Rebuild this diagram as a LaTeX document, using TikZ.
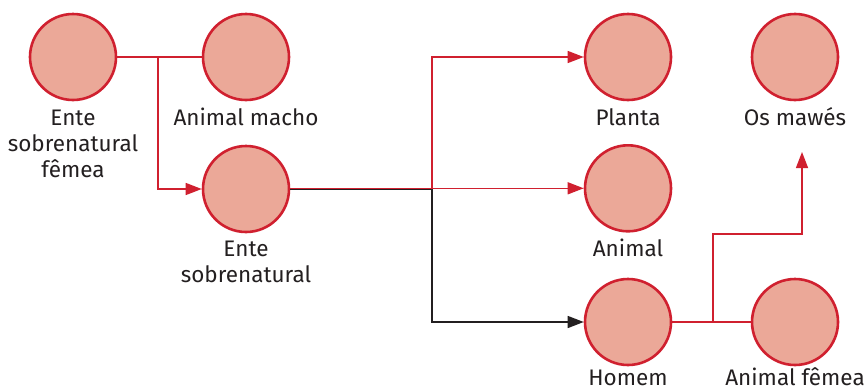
\documentclass[tikz,border=0pt]{standalone}
\usepackage{fontspec}
\setmainfont{Fira Sans}
\usetikzlibrary{arrows.meta}
\definecolor{cfill}{HTML}{EBA898}
\definecolor{cred}{HTML}{D0202F}
\definecolor{ctext}{HTML}{231F20}
\begin{document}
\begin{tikzpicture}[x=1pt,y=-1pt,
  circ/.style={circle, draw=cred, fill=cfill, line width=2.6pt, minimum size=86pt, inner sep=0pt},
  lbl/.style={text=ctext, font=\fontsize{22.5}{26}\selectfont, align=center, inner sep=0pt, anchor=base},
  conn/.style={draw=cred, line width=1.4pt},
  bconn/.style={draw=ctext, line width=1.4pt},
  arr/.style={-{Triangle[length=16pt,width=12pt]}}]
\useasboundingbox (0,0) rectangle (866,391);
% circles
\node[circ] (esf) at (73,57) {};
\node[circ] (am) at (246,57) {};
\node[circ] (es) at (246,189) {};
\node[circ] (pl) at (628,57) {};
\node[circ] (om) at (795,57) {};
\node[circ] (an) at (628,188.3) {};
\node[circ] (ho) at (628,322) {};
\node[circ] (af) at (795,322) {};
% labels (base = baseline of the last line)
\node[lbl] (lesf) at (73,177) {Ente\\sobrenatural\\fêmea};
\node[lbl] (lam) at (246,125) {Animal macho};
\node[lbl] (les) at (246,282) {Ente\\sobrenatural};
\node[lbl] (lpl) at (628,125) {Planta};
\node[lbl] (lom) at (795,125) {Os mawés};
\node[lbl] (lan) at (628,256) {Animal};
\node[lbl] (lho) at (628,385) {Homem};
\node[lbl] (laf) at (795,385) {Animal fêmea};
% junctions
\coordinate (j1) at (158,57);
\coordinate (j2r) at (432,188.3);
\coordinate (j2b) at (432,189.7);
\coordinate (j3) at (713,322);
\coordinate (k3) at (713,234);
\coordinate (t3) at (802,152);
% connectors
\draw[conn] (esf.east) -- (am.west);
\draw[conn,arr] (j1) |- (es.west);
\draw[bconn,arr] ([yshift=-0.7pt]es.east) -- (j2b) |- (ho.west);
\draw[conn] ([yshift=0.7pt]es.east) -- (j2r);
\draw[conn,arr] (j2r) -- (an.west);
\draw[conn,arr] (j2r) |- (pl.west);
\draw[conn] (ho.east) -- (af.west);
\draw[conn,arr] (j3) -- (k3) -| (t3);
\end{tikzpicture}
\end{document}
